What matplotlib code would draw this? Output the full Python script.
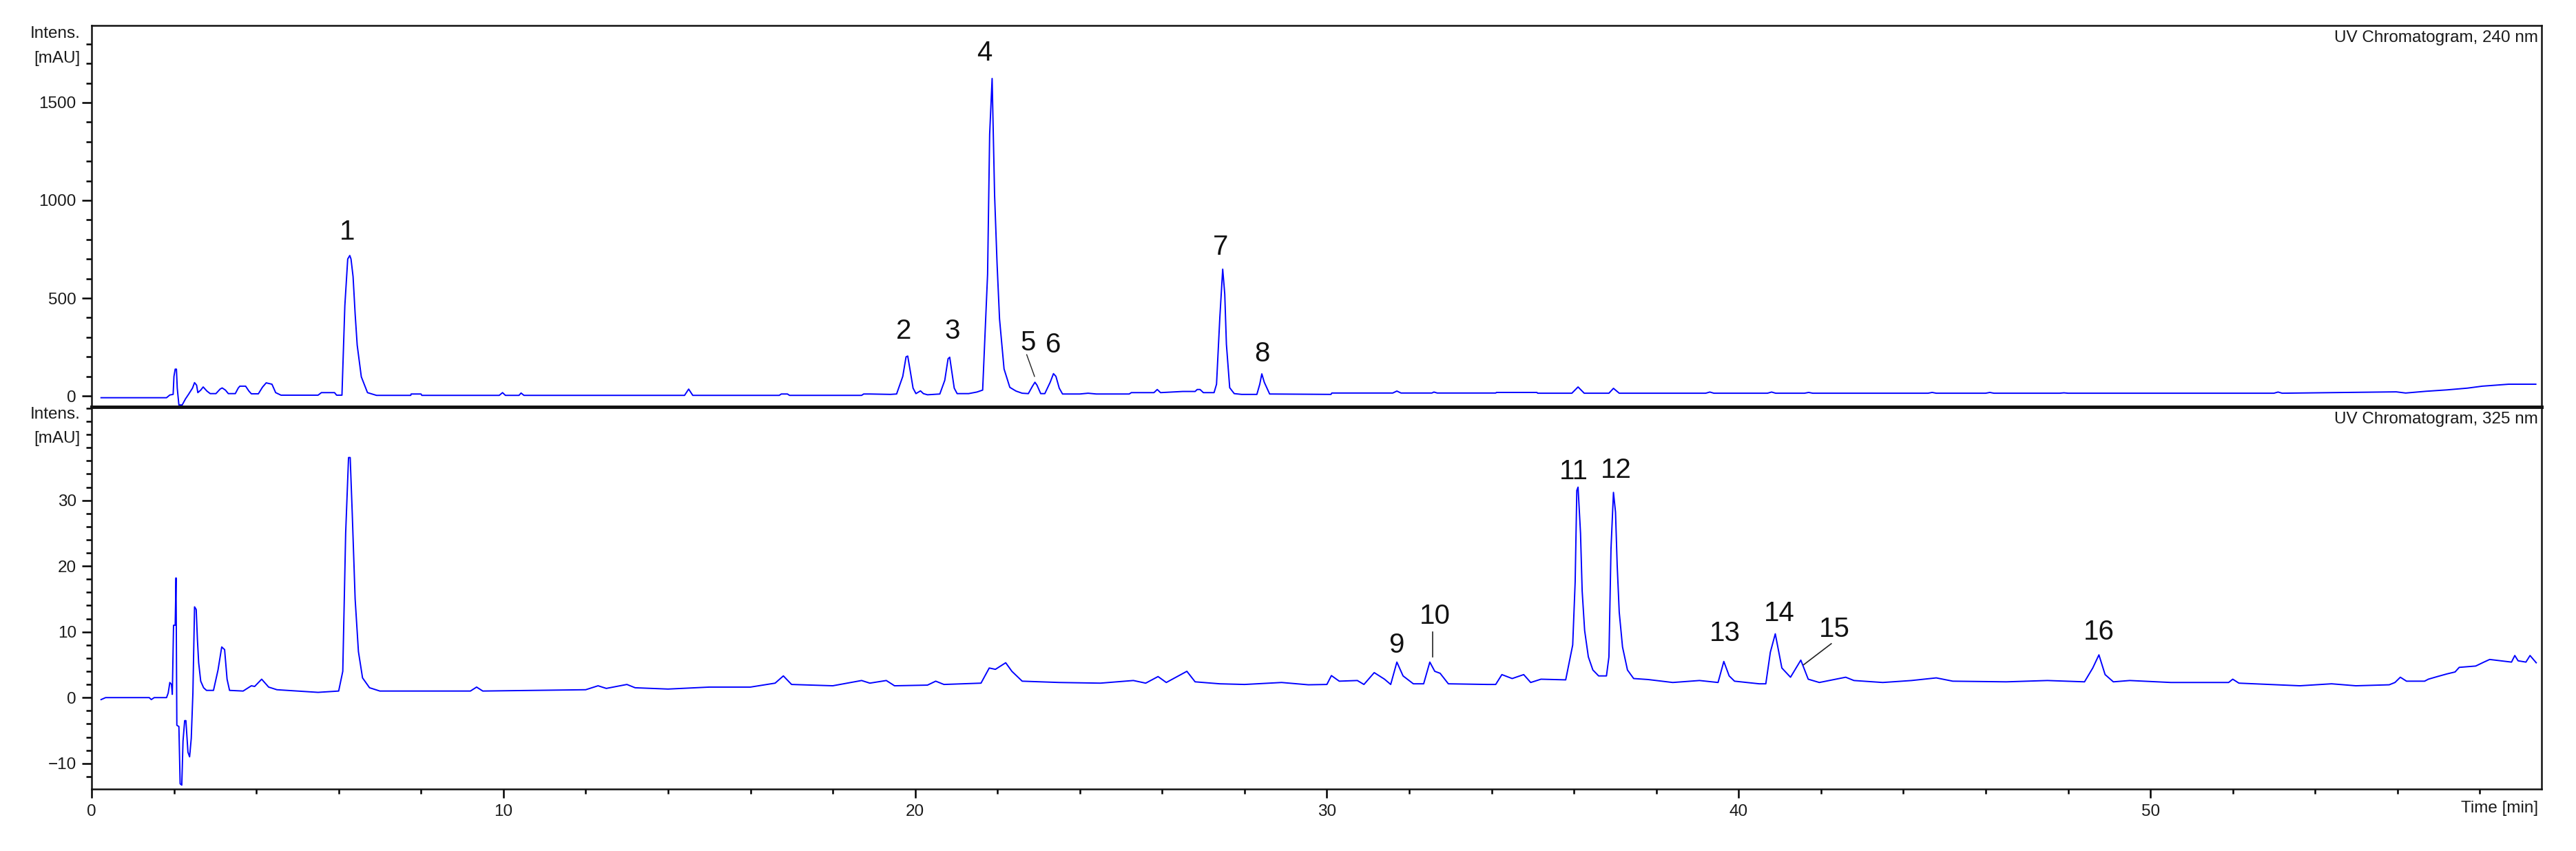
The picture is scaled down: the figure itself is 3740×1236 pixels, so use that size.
import numpy as np
import matplotlib
matplotlib.use('Agg')
import matplotlib.pyplot as plt
from matplotlib.ticker import MultipleLocator, FixedLocator

# ── 240 nm trace (time [min], intensity [mAU]) ─────────────
time_240 = [0.23, 1.82, 1.90, 1.98, 2.00, 2.03, 2.06, 2.08, 2.12, 2.20, 2.28, 2.35, 2.45, 2.50, 2.55,
            2.58, 2.65, 2.71, 2.80, 2.88, 3.02, 3.12, 3.17, 3.25, 3.32, 3.49, 3.56, 3.60, 3.74, 3.82,
            3.88, 4.05, 4.15, 4.24, 4.38, 4.47, 4.60, 5.50, 5.58, 5.90, 5.95, 6.08, 6.15, 6.22, 6.27,
            6.30, 6.35, 6.40, 6.45, 6.55, 6.70, 6.92, 7.75, 7.76, 8.00, 8.02, 9.90, 9.98, 10.05, 10.38,
            10.43, 10.50, 14.40, 14.50, 14.60, 16.70, 16.75, 16.90, 16.95, 18.70, 18.75, 18.90, 19.40,
            19.55, 19.70, 19.78, 19.82, 19.88, 19.95, 20.02, 20.13, 20.20, 20.30, 20.45, 20.60, 20.72,
            20.80, 20.84, 20.88, 20.95, 21.02, 21.30, 21.50, 21.64, 21.76, 21.81, 21.87, 21.93, 21.99,
            22.05, 22.16, 22.30, 22.45, 22.60, 22.75, 22.85, 22.91, 22.96, 23.05, 23.15, 23.28, 23.36,
            23.42, 23.50, 23.58, 24.00, 24.20, 24.40, 25.20, 25.25, 25.80, 25.88, 25.96, 26.50, 26.80,
            26.85, 26.92, 27.00, 27.26, 27.32, 27.40, 27.47, 27.52, 27.56, 27.64, 27.75, 27.93, 28.30,
            28.37, 28.42, 28.48, 28.61, 30.10, 30.12, 31.60, 31.70, 31.80, 32.55, 32.60, 32.68, 34.10,
            34.12, 35.10, 35.12, 35.95, 36.10, 36.25, 36.85, 36.96, 37.10, 38.50, 39.20, 39.30, 39.40,
            40.70, 40.80, 40.90, 41.60, 41.70, 41.80, 44.60, 44.70, 44.80, 46.00, 46.10, 46.20, 47.80,
            47.90, 48.00, 53.00, 53.10, 53.20, 55.97, 56.20, 56.70, 57.20, 57.70, 58.06, 58.70, 59.36]
intens_240 = [-9, -9, 5, 8, 100, 137, 137, 40, -46, -46, -15, 7, 40, 68, 55,
              17, 30, 46, 25, 12, 12, 35, 41, 30, 12, 12, 40, 50, 50, 25,
              11, 11, 45, 67, 60, 17, 4, 4, 17, 17, 4, 4, 461, 700, 718,
              700, 610, 420, 260, 98, 17, 3, 3, 10, 10, 3, 3, 17, 3, 3,
              15, 3, 3, 35, 3, 3, 10, 10, 3, 3, 10, 10, 8,
              10, 100, 200, 204, 130, 40, 12, 26, 12, 6, 8, 10, 80,
              190, 198, 140, 40, 12, 12, 20, 30, 623, 1337, 1623, 1027, 677,
              394, 138, 44, 25, 14, 12, 50, 70, 55, 12, 12, 70, 114,
              100, 40, 10, 10, 14, 10, 10, 17, 17, 33, 17, 23, 23,
              33, 33, 17, 17, 60, 400, 648, 520, 264, 42, 12, 8, 8,
              60, 113, 70, 10, 8, 15, 15, 25, 15, 15, 20, 15, 15,
              18, 18, 14, 14, 46, 14, 14, 39, 14, 14, 14, 20, 14,
              14, 20, 14, 14, 18, 14, 14, 18, 14, 14, 18, 14, 14,
              16, 14, 14, 20, 14, 21, 15, 24, 31, 40, 50, 60, 60]

# ── 325 nm trace ───────────────────────────────────────────
time_325 = [0.23, 0.34, 1.40, 1.45, 1.52, 1.82, 1.86, 1.90, 1.94, 1.96, 1.99, 2.03, 2.05, 2.07, 2.12,
            2.15, 2.19, 2.22, 2.26, 2.29, 2.34, 2.38, 2.42, 2.46, 2.50, 2.54, 2.57, 2.60, 2.65, 2.72,
            2.79, 2.96, 3.07, 3.16, 3.23, 3.29, 3.35, 3.68, 3.88, 3.96, 4.13, 4.30, 4.50, 5.00, 5.50,
            6.00, 6.10, 6.17, 6.24, 6.28, 6.33, 6.40, 6.48, 6.58, 6.75, 7.00, 9.20, 9.35, 9.50, 12.00,
            12.30, 12.50, 13.00, 13.20, 14.00, 15.00, 16.00, 16.60, 16.80, 17.00, 18.00, 18.70, 18.90,
            19.30, 19.50, 20.30, 20.50, 20.70, 21.60, 21.80, 21.95, 22.20, 22.35, 22.60, 23.50, 24.50,
            25.30, 25.60, 25.90, 26.10, 26.60, 26.80, 27.40, 28.00, 28.90, 29.55, 30.00, 30.11, 30.30,
            30.74, 30.90, 31.15, 31.40, 31.55, 31.70, 31.85, 32.10, 32.35, 32.50, 32.62, 32.75, 32.95,
            33.90, 34.10, 34.25, 34.50, 34.78, 34.95, 35.20, 35.80, 35.97, 36.03, 36.07, 36.10, 36.16,
            36.20, 36.26, 36.35, 36.46, 36.60, 36.79, 36.85, 36.90, 36.96, 37.01, 37.05, 37.10, 37.18,
            37.30, 37.45, 37.80, 38.40, 39.05, 39.50, 39.64, 39.77, 39.90, 40.50, 40.66, 40.77, 40.89,
            41.05, 41.26, 41.51, 41.69, 41.96, 42.60, 42.80, 43.50, 44.20, 44.80, 45.20, 46.50, 47.50,
            48.40, 48.60, 48.75, 48.90, 49.10, 49.50, 50.50, 51.90, 52.00, 52.15, 53.63, 54.40, 54.99,
            55.80, 55.94, 56.07, 56.22, 56.66, 56.75, 56.97, 57.20, 57.40, 57.50, 57.90, 58.10, 58.24,
            58.50, 58.77, 58.85, 58.93, 59.12, 59.22, 59.37]
intens_325 = [-0.3, 0, 0, -0.3, 0, 0, 0.7, 2.3, 2.0, 0.5, 11, 11, 18.2, -4.2, -4.4,
              -13.1, -13.3, -6.6, -3.5, -3.5, -8.3, -9.0, -6.2, 0.7, 13.8, 13.4, 8.8, 5.3, 2.5, 1.5,
              1.1, 1.1, 4.2, 7.7, 7.3, 2.8, 1.1, 1.0, 1.8, 1.7, 2.8, 1.6, 1.2, 1.0, 0.8,
              1.0, 4, 25, 36.5, 36.5, 28, 15, 7, 3, 1.5, 1.0, 1.0, 1.6, 1.0, 1.2,
              1.8, 1.4, 2.0, 1.5, 1.3, 1.6, 1.6, 2.2, 3.3, 2.0, 1.8, 2.6, 2.2,
              2.6, 1.8, 1.9, 2.5, 2.0, 2.2, 4.5, 4.3, 5.3, 4.0, 2.5, 2.3, 2.2,
              2.6, 2.2, 3.2, 2.3, 4.0, 2.4, 2.1, 2.0, 2.3, 1.95, 2.0, 3.35, 2.5,
              2.6, 2.0, 3.8, 2.8, 2.0, 5.4, 3.3, 2.1, 2.1, 5.4, 4.0, 3.7, 2.1,
              2.0, 2.0, 3.5, 2.9, 3.5, 2.3, 2.8, 2.7, 8, 17.6, 31.5, 32.0, 25,
              16.2, 10.2, 6.2, 4.2, 3.3, 3.3, 6.2, 22.6, 31.2, 28.2, 20.2, 13, 7.7,
              4.2, 2.9, 2.75, 2.3, 2.6, 2.3, 5.5, 3.3, 2.5, 2.1, 2.1, 6.9, 9.7,
              4.5, 3.1, 5.7, 2.8, 2.3, 3.1, 2.6, 2.3, 2.6, 3.0, 2.5, 2.4, 2.6,
              2.4, 4.5, 6.5, 3.5, 2.4, 2.6, 2.3, 2.3, 2.8, 2.2, 1.8, 2.1, 1.8,
              1.95, 2.3, 3.1, 2.5, 2.5, 2.8, 3.2, 3.6, 3.9, 4.6, 4.8, 5.4, 5.8,
              5.6, 5.4, 6.4, 5.6, 5.4, 6.4, 5.3]

# ── peak labels ───────────────────────────────────────────
labels_240 = ['1', '2', '3', '4', '5', '6', '7', '8']
label_t_240 = [6.21, 19.72, 20.90, 21.68, 22.74, 23.35, 27.42, 28.42]
label_y_240 = [839, 331, 331, 1752, 271, 260, 762, 216]

labels_325 = ['9', '10', '11', '12', '13', '14', '15', '16']
label_t_325 = [31.69, 32.63, 36.00, 37.03, 39.66, 40.99, 42.32, 48.75]
label_y_325 = [8.0, 12.4, 34.4, 34.6, 9.8, 12.8, 10.4, 10.0]

# leader lines: (t0, y0, t1, y1)
leader_240 = [(22.71, 211, 22.90, 100)]
leader_325 = [(32.57, 10.0, 32.57, 6.2), (42.25, 8.2, 41.58, 5.0)]

yticks_240 = [0, 500, 1000, 1500]
yticks_325 = [-10, 0, 10, 20, 30]
xticks = [0, 10, 20, 30, 40, 50]

# ── figure ────────────────────────────────────────────────
W, H = 3740, 1236
fig = plt.figure(figsize=(W / 100, H / 100), dpi=100)
left, right = 133 / W, 3690 / W
ax1 = fig.add_axes([left, 1 - 591 / H, right - left, (591 - 37) / H])
ax2 = fig.add_axes([left, 1 - 1146 / H, right - left, (1146 - 591) / H])

sans = ['Liberation Sans', 'DejaVu Sans']
tick_font = dict(family=sans, size=17.5, color='#1a1a1a')
peak_font = dict(family=['Liberation Sans Narrow', 'Liberation Sans'], size=29, color='#111111')

for ax in (ax1, ax2):
    ax.set_xlim(0, 59.5)
    for s in ax.spines.values():
        s.set_linewidth(1.8)
        s.set_color('#111111')
    ax.tick_params(axis='y', which='major', length=10, width=1.8, pad=6, labelsize=17.5,
                   labelcolor='#1a1a1a')
    ax.tick_params(axis='y', which='minor', length=6, width=1.8)

ax1.plot(time_240, intens_240, color='#0000ff', lw=1.4)
ax2.plot(time_325, intens_325, color='#0000ff', lw=1.4)

ax1.set_ylim(-56, 1894)
ax1.yaxis.set_major_locator(FixedLocator(yticks_240))
ax1.yaxis.set_minor_locator(MultipleLocator(100))
ax1.set_xticks([])
ax1.spines['bottom'].set_linewidth(3.5)

ax2.set_ylim(-13.9, 44.2)
ax2.yaxis.set_major_locator(FixedLocator(yticks_325))
ax2.yaxis.set_minor_locator(MultipleLocator(2))
ax2.spines['top'].set_linewidth(3.5)
ax2.xaxis.set_major_locator(FixedLocator(xticks))
ax2.xaxis.set_minor_locator(MultipleLocator(2))
ax2.tick_params(axis='x', which='major', length=9, width=1.8, pad=7, labelsize=17.5,
                labelcolor='#1a1a1a')
ax2.tick_params(axis='x', which='minor', length=5, width=1.8)
for lab in ax2.get_xticklabels() + ax1.get_yticklabels() + ax2.get_yticklabels():
    lab.set_family(sans)

# axis captions
for ax, y_int, y_mau in ((ax1, 0.978, 0.913), (ax2, 0.980, 0.917)):
    ax.text(-0.0045, y_int, 'Intens.', transform=ax.transAxes, ha='right', va='center', **tick_font)
    ax.text(-0.0045, y_mau, '[mAU]', transform=ax.transAxes, ha='right', va='center', **tick_font)
ax1.text(0.9985, 0.967, 'UV Chromatogram, 240 nm', transform=ax1.transAxes,
         ha='right', va='center', **tick_font)
ax2.text(0.9985, 0.967, 'UV Chromatogram, 325 nm', transform=ax2.transAxes,
         ha='right', va='center', **tick_font)
ax2.text(0.9985, -0.05, 'Time [min]', transform=ax2.transAxes, ha='right', va='center',
         **tick_font)

# peak numbers
for lab, t, y in zip(labels_240, label_t_240, label_y_240):
    ax1.text(t, y, lab, ha='center', va='center', **peak_font)
for lab, t, y in zip(labels_325, label_t_325, label_y_325):
    ax2.text(t, y, lab, ha='center', va='center', **peak_font)
for t0, y0, t1, y1 in leader_240:
    ax1.plot([t0, t1], [y0, y1], color='#222222', lw=1.0)
for t0, y0, t1, y1 in leader_325:
    ax2.plot([t0, t1], [y0, y1], color='#222222', lw=1.2)

fig.savefig('out.png', dpi=100)
